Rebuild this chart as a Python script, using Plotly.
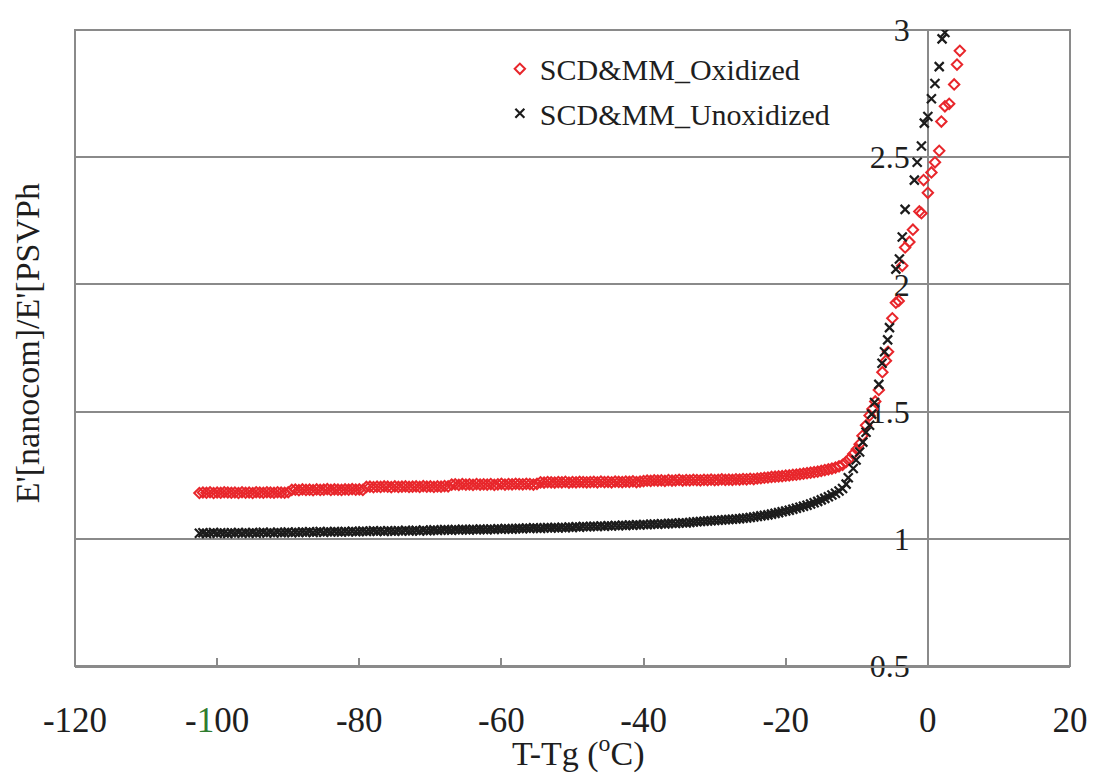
import plotly.graph_objects as go

# ---------------- data ----------------
SERIES_NAMES = ["SCD&MM_Oxidized", "SCD&MM_Unoxidized"]

X_TICK_VALUES = [-120, -100, -80, -60, -40, -20, 0, 20]
X_TICK_LABELS = ["-120", "-<span style='color:#2f7d2f'>1</span>00", "-80", "-60", "-40", "-20", "0", "20"]
Y_TICK_VALUES = [0.5, 1, 1.5, 2, 2.5, 3]
Y_TICK_LABELS = ["0.5", "1", "1.5", "2", "2.5", "3"]

# temperatures of the dense low-temperature part (both series)
T_FLAT = [
    -102.5, -102.0, -101.5, -101.0, -100.5, -100.0, -99.5, -99.0, -98.5, -98.0,
    -97.5, -97.0, -96.5, -96.0, -95.5, -95.0, -94.5, -94.0, -93.5, -93.0,
    -92.5, -92.0, -91.5, -91.0, -90.5, -90.0, -89.5, -89.0, -88.5, -88.0,
    -87.5, -87.0, -86.5, -86.0, -85.5, -85.0, -84.5, -84.0, -83.5, -83.0,
    -82.5, -82.0, -81.5, -81.0, -80.5, -80.0, -79.5, -79.0, -78.5, -78.0,
    -77.5, -77.0, -76.5, -76.0, -75.5, -75.0, -74.5, -74.0, -73.5, -73.0,
    -72.5, -72.0, -71.5, -71.0, -70.5, -70.0, -69.5, -69.0, -68.5, -68.0,
    -67.5, -67.0, -66.5, -66.0, -65.5, -65.0, -64.5, -64.0, -63.5, -63.0,
    -62.5, -62.0, -61.5, -61.0, -60.5, -60.0, -59.5, -59.0, -58.5, -58.0,
    -57.5, -57.0, -56.5, -56.0, -55.5, -55.0, -54.5, -54.0, -53.5, -53.0,
    -52.5, -52.0, -51.5, -51.0, -50.5, -50.0, -49.5, -49.0, -48.5, -48.0,
    -47.5, -47.0, -46.5, -46.0, -45.5, -45.0, -44.5, -44.0, -43.5, -43.0,
    -42.5, -42.0, -41.5, -41.0, -40.5, -40.0, -39.5, -39.0, -38.5, -38.0,
    -37.5, -37.0, -36.5, -36.0, -35.5, -35.0, -34.5, -34.0, -33.5, -33.0,
    -32.5, -32.0, -31.5, -31.0, -30.5, -30.0, -29.5, -29.0, -28.5, -28.0,
    -27.5, -27.0, -26.5, -26.0, -25.5, -25.0, -24.5, -24.0, -23.5, -23.0,
    -22.5, -22.0, -21.5, -21.0, -20.5, -20.0, -19.5, -19.0, -18.5, -18.0,
    -17.5, -17.0, -16.5, -16.0, -15.5, -15.0, -14.5, -14.0, -13.5, -13.0,
    -12.5, -12.0,
]

OX_FLAT = [
    1.180, 1.182, 1.181, 1.183, 1.180, 1.182, 1.181, 1.183, 1.182, 1.181,
    1.182, 1.180, 1.183, 1.181, 1.182, 1.180, 1.183, 1.182, 1.181, 1.183,
    1.182, 1.181, 1.183, 1.182, 1.181, 1.183, 1.192, 1.193, 1.191, 1.194,
    1.192, 1.193, 1.191, 1.194, 1.192, 1.193, 1.195, 1.192, 1.194, 1.193,
    1.192, 1.194, 1.193, 1.195, 1.193, 1.194, 1.192, 1.204, 1.205, 1.203,
    1.205, 1.204, 1.206, 1.205, 1.203, 1.206, 1.204, 1.205, 1.206, 1.204,
    1.205, 1.206, 1.204, 1.207, 1.205, 1.206, 1.204, 1.206, 1.205, 1.207,
    1.206, 1.213, 1.214, 1.212, 1.215, 1.213, 1.214, 1.212, 1.215, 1.213,
    1.214, 1.213, 1.215, 1.212, 1.214, 1.216, 1.213, 1.215, 1.214, 1.216,
    1.215, 1.214, 1.216, 1.215, 1.213, 1.216, 1.222, 1.221, 1.223, 1.222,
    1.221, 1.223, 1.222, 1.224, 1.221, 1.223, 1.222, 1.224, 1.223, 1.222,
    1.223, 1.224, 1.222, 1.225, 1.223, 1.224, 1.222, 1.225, 1.224, 1.223,
    1.225, 1.224, 1.226, 1.223, 1.225, 1.227, 1.229, 1.228, 1.230, 1.229,
    1.230, 1.228, 1.231, 1.229, 1.230, 1.232, 1.229, 1.231, 1.230, 1.232,
    1.231, 1.230, 1.232, 1.231, 1.233, 1.231, 1.232, 1.234, 1.232, 1.233,
    1.232, 1.234, 1.233, 1.235, 1.234, 1.236, 1.235, 1.237, 1.238, 1.240,
    1.241, 1.243, 1.244, 1.245, 1.246, 1.248, 1.249, 1.251, 1.252, 1.254,
    1.256, 1.258, 1.260, 1.262, 1.264, 1.267, 1.270, 1.273, 1.276, 1.280,
    1.285, 1.291,
]

UN_FLAT = [
    1.022, 1.024, 1.021, 1.023, 1.025, 1.022, 1.024, 1.023, 1.021, 1.024,
    1.023, 1.025, 1.022, 1.024, 1.023, 1.025, 1.022, 1.024, 1.026, 1.023,
    1.025, 1.023, 1.026, 1.024, 1.025, 1.027, 1.024, 1.026, 1.025, 1.027,
    1.026, 1.028, 1.025, 1.027, 1.029, 1.026, 1.028, 1.027, 1.029, 1.028,
    1.027, 1.029, 1.028, 1.030, 1.028, 1.029, 1.031, 1.029, 1.030, 1.032,
    1.030, 1.031, 1.029, 1.032, 1.031, 1.030, 1.032, 1.031, 1.033, 1.031,
    1.032, 1.033, 1.031, 1.034, 1.032, 1.033, 1.035, 1.033, 1.034, 1.036,
    1.035, 1.034, 1.036, 1.035, 1.037, 1.036, 1.035, 1.037, 1.036, 1.038,
    1.037, 1.036, 1.038, 1.037, 1.039, 1.038, 1.040, 1.039, 1.038, 1.040,
    1.041, 1.040, 1.042, 1.041, 1.043, 1.042, 1.041, 1.043, 1.044, 1.043,
    1.044, 1.043, 1.045, 1.044, 1.046, 1.045, 1.047, 1.046, 1.048, 1.047,
    1.048, 1.049, 1.048, 1.050, 1.049, 1.051, 1.050, 1.052, 1.051, 1.053,
    1.052, 1.054, 1.053, 1.055, 1.054, 1.056, 1.055, 1.057, 1.058, 1.057,
    1.059, 1.058, 1.060, 1.061, 1.060, 1.062, 1.063, 1.062, 1.064, 1.066,
    1.067, 1.068, 1.069, 1.070, 1.071, 1.072, 1.073, 1.074, 1.075, 1.076,
    1.077, 1.078, 1.079, 1.081, 1.082, 1.084, 1.086, 1.088, 1.090, 1.092,
    1.094, 1.097, 1.100, 1.103, 1.106, 1.109, 1.112, 1.116, 1.120, 1.124,
    1.128, 1.132, 1.137, 1.142, 1.147, 1.153, 1.159, 1.165, 1.172, 1.179,
    1.188, 1.198,
]

# the steep part near Tg
T_OX_RISE = [-11.5, -11.0, -10.5, -10.0, -9.6, -9.2, -8.7, -8.2, -7.8, -7.4,
             -6.9, -6.4, -5.9, -5.6, -5.0, -4.5, -4.1, -3.6, -3.2, -2.6,
             -2.1, -1.2, -0.9, -0.6, 0.0, 0.5, 1.0, 1.6, 1.9, 2.4,
             3.0, 3.7, 4.1, 4.5]
OX_RISE = [1.302, 1.315, 1.333, 1.352, 1.372, 1.405, 1.446, 1.485, 1.510, 1.540,
           1.585, 1.655, 1.700, 1.735, 1.867, 1.928, 1.935, 2.073, 2.145, 2.167,
           2.215, 2.287, 2.280, 2.410, 2.360, 2.440, 2.480, 2.525, 2.640, 2.700,
           2.710, 2.786, 2.864, 2.918]

T_UN_RISE = [-11.5, -11.2, -10.5, -10.1, -9.6, -9.15, -8.7, -8.2, -7.9, -7.5,
             -6.9, -6.45, -6.1, -5.66, -5.4, -4.5, -4.0, -3.6, -3.2, -1.9,
             -1.5, -0.9, -0.5, 0.0, 0.5, 1.0, 1.6, 2.0, 2.4]
UN_RISE = [1.215, 1.240, 1.276, 1.310, 1.341, 1.380, 1.419, 1.446, 1.490, 1.536,
           1.607, 1.690, 1.735, 1.782, 1.830, 2.060, 2.100, 2.186, 2.295, 2.410,
           2.480, 2.544, 2.634, 2.660, 2.730, 2.790, 2.856, 2.965, 2.990]

X_RANGE = [-120, 20]
Y_RANGE = [0.5, 3]

# ---------------- styling ----------------
FONT = "Liberation Serif"
TXT = "#1e1e1e"
GRID = "#8a8a8a"
RED = "#e8262b"
BLACK = "#1c1c1c"

fig = go.Figure()

fig.add_trace(go.Scatter(
    x=T_FLAT + T_OX_RISE, y=OX_FLAT + OX_RISE, mode="markers",
    name=SERIES_NAMES[0], legend="legend", showlegend=True,
    marker=dict(symbol="diamond-open", size=8, color=RED,
                line=dict(color=RED, width=2)),
))
fig.add_trace(go.Scatter(
    x=T_FLAT + T_UN_RISE, y=UN_FLAT + UN_RISE, mode="markers",
    name=SERIES_NAMES[1], legend="legend2", showlegend=True,
    marker=dict(symbol="x-thin-open", size=9, color=BLACK,
                line=dict(color=BLACK, width=2.2)),
))

fig.update_layout(
    width=1100, height=778,
    margin=dict(l=75, r=21, t=24, b=112),
    paper_bgcolor="white", plot_bgcolor="white",
    font=dict(family=FONT, color=TXT),
    showlegend=True,
    xaxis=dict(
        range=X_RANGE, tickvals=X_TICK_VALUES, ticktext=X_TICK_LABELS,
        showgrid=False, zeroline=False,
        showline=True, linecolor=GRID, linewidth=2,
        ticks="inside", ticklen=8, tickcolor=GRID, tickwidth=1.5,
        tickfont=dict(family=FONT, size=35, color=TXT),
        ticklabelstandoff=22,
    ),
    yaxis=dict(
        range=Y_RANGE, tickvals=Y_TICK_VALUES, ticktext=Y_TICK_LABELS,
        anchor="free", position=(0 - X_RANGE[0]) / (X_RANGE[1] - X_RANGE[0]),
        showgrid=True, gridcolor=GRID, gridwidth=1.5,
        zeroline=False, showline=True, linecolor=GRID, linewidth=1.5,
        ticks="", tickfont=dict(family=FONT, size=32, color=TXT),
        ticklabelstandoff=11, layer="below traces",
    ),
    legend=dict(
        visible=True,
        x=0.427, y=0.939, xanchor="left", yanchor="middle",
        bgcolor="rgba(0,0,0,0)", borderwidth=0,
        font=dict(family=FONT, size=30, color=TXT),
    ),
    legend2=dict(
        visible=True,
        x=0.427, y=0.869, xanchor="left", yanchor="middle",
        bgcolor="rgba(0,0,0,0)", borderwidth=0,
        font=dict(family=FONT, size=30, color=TXT),
    ),
    shapes=[dict(type="rect", xref="paper", yref="paper", x0=0, x1=1, y0=0, y1=1,
                 line=dict(color=GRID, width=2), layer="below")],
    annotations=[
        dict(text="T-Tg (<sup>o</sup>C)", xref="paper", yref="paper",
             x=0.506, y=-0.134, xanchor="center", yanchor="middle",
             showarrow=False, font=dict(family=FONT, size=34, color=TXT)),
        dict(text="E'[nanocom]/E'[PSVPh", xref="paper", yref="paper",
             x=-0.047, y=0.508, xanchor="center", yanchor="middle", textangle=-90,
             showarrow=False, font=dict(family=FONT, size=34, color=TXT)),
    ],
)

fig.write_html("out.html")
